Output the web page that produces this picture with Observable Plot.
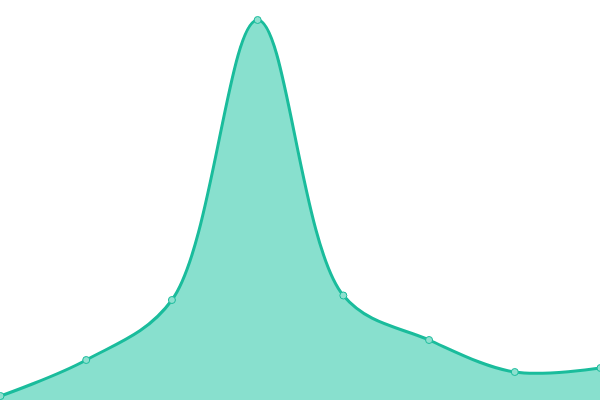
<!DOCTYPE html>
<html>
<head>
<meta charset="utf-8">
<script src="https://cdn.jsdelivr.net/npm/d3@7"></script>
<script src="https://cdn.jsdelivr.net/npm/@observablehq/plot@0.6"></script>
<style>
html, body { margin: 0; padding: 0; background: #fff; overflow: hidden; }
svg { display: block; }
</style>
</head>
<body>
<div id="chart"></div>
<script>
const positions = [0, 1, 2, 3, 4, 5, 6, 7];
const values = [4.5, 40.5, 100.5, 380.5, 105, 60.5, 28.5, 32.5];

const data = positions.map((p, i) => ({x: p, y: values[i]}));

const chart = Plot.plot({
  width: 600,
  height: 400,
  margin: 0,
  x: {domain: [0, 7], axis: null},
  y: {domain: [0, 400], axis: null},
  marks: [
    Plot.areaY(data, {x: "x", y: "y", curve: "catmull-rom", fill: "#88e0ce"}),
    Plot.lineY(data, {x: "x", y: "y", curve: "catmull-rom", stroke: "#1abc9c", strokeWidth: 3}),
    Plot.dot(data, {x: "x", y: "y", r: 3.5, fill: "#8ee0cf", stroke: "#1abc9c", strokeWidth: 1})
  ]
});
document.getElementById("chart").appendChild(chart);
</script>
</body>
</html>
